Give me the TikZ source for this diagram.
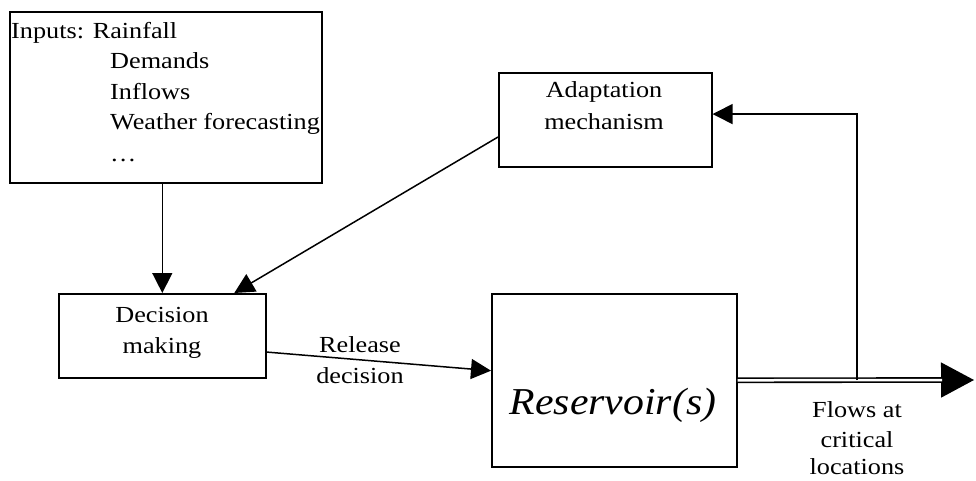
\documentclass[tikz,border=0pt]{standalone}
\usepackage{fontspec}
\setmainfont{Liberation Serif}
\usetikzlibrary{arrows.meta,calc}
\newcommand{\stretchx}[1]{\scalebox{1.14}[1]{#1}}
\begin{document}
\begin{tikzpicture}[x=1pt,y=-1pt,
  box/.style={draw,line width=1.6pt,inner sep=0pt,anchor=north west},
  txt/.style={inner sep=0pt,anchor=base,font=\fontsize{23}{30}\selectfont},
  ltxt/.style={txt,anchor=base west},
  arr/.style={line width=1.5pt,-{Triangle[length=20pt,width=20pt]}}]
\useasboundingbox (0,0) rectangle (976,481);
% boxes
\node[box,minimum width=312pt,minimum height=171pt] (inputs) at (9,11) {};
\node[box,minimum width=207pt,minimum height=84pt] (dec) at (58,293) {};
\node[box,minimum width=213pt,minimum height=94pt] (adapt) at (498,72) {};
\node[box,minimum width=245pt,minimum height=173pt] (res) at (491,293) {};
% texts
\node[ltxt] (t1) at (11,39) {\stretchx{Inputs: Rainfall}};
\node[ltxt] (t2) at (110,69) {\stretchx{Demands}};
\node[ltxt] (t3) at (110,100) {\stretchx{Inflows}};
\node[ltxt] (t4) at (110,130) {\stretchx{Weather forecasting}};
\node[ltxt] (t5) at (110,162) {\stretchx{\dots}};
\node[txt] (d1) at (162,322) {\stretchx{Decision}};
\node[txt] (d2) at (162,353) {\stretchx{making}};
\node[txt] (a1) at (604,98) {\stretchx{Adaptation}};
\node[txt] (a2) at (604,130) {\stretchx{mechanism}};
\node[txt,font=\fontsize{38}{46}\selectfont\itshape] (r1) at (613,414) {\scalebox{1.1}[1]{Reservoir(s)}};
\node[txt] (l1) at (360,352) {\stretchx{Release}};
\node[txt] (l2) at (360,383) {\stretchx{decision}};
\node[txt] (f1) at (857,417) {\stretchx{Flows at}};
\node[txt] (f2) at (857,447) {\stretchx{critical}};
\node[txt] (f3) at (857,474) {\stretchx{locations}};
% connectors
\coordinate (fb) at (857,380);
\coordinate (outend) at (974,380);
\coordinate (outbase) at (942,380);
\draw[arr] (dec.north |- inputs.south) -- (dec.north);
\draw[arr] ($(adapt.north west)!0.68!(adapt.south west)$) -- ($(dec.north west)!0.845!(dec.north east)$);
\draw[arr] ($(dec.north east)!0.69!(dec.south east)$) -- ($(res.north west)!0.445!(res.south west)$);
\draw[line width=1.5pt,-{Triangle[length=33pt,width=35pt]}] (res.east) -- (outend);
\draw[line width=1.6pt,double,double distance=2.5pt] (res.east) -- (outbase);
\draw[arr] (fb) |- ($(adapt.north east)!0.44!(adapt.south east)$);
\end{tikzpicture}
\end{document}
